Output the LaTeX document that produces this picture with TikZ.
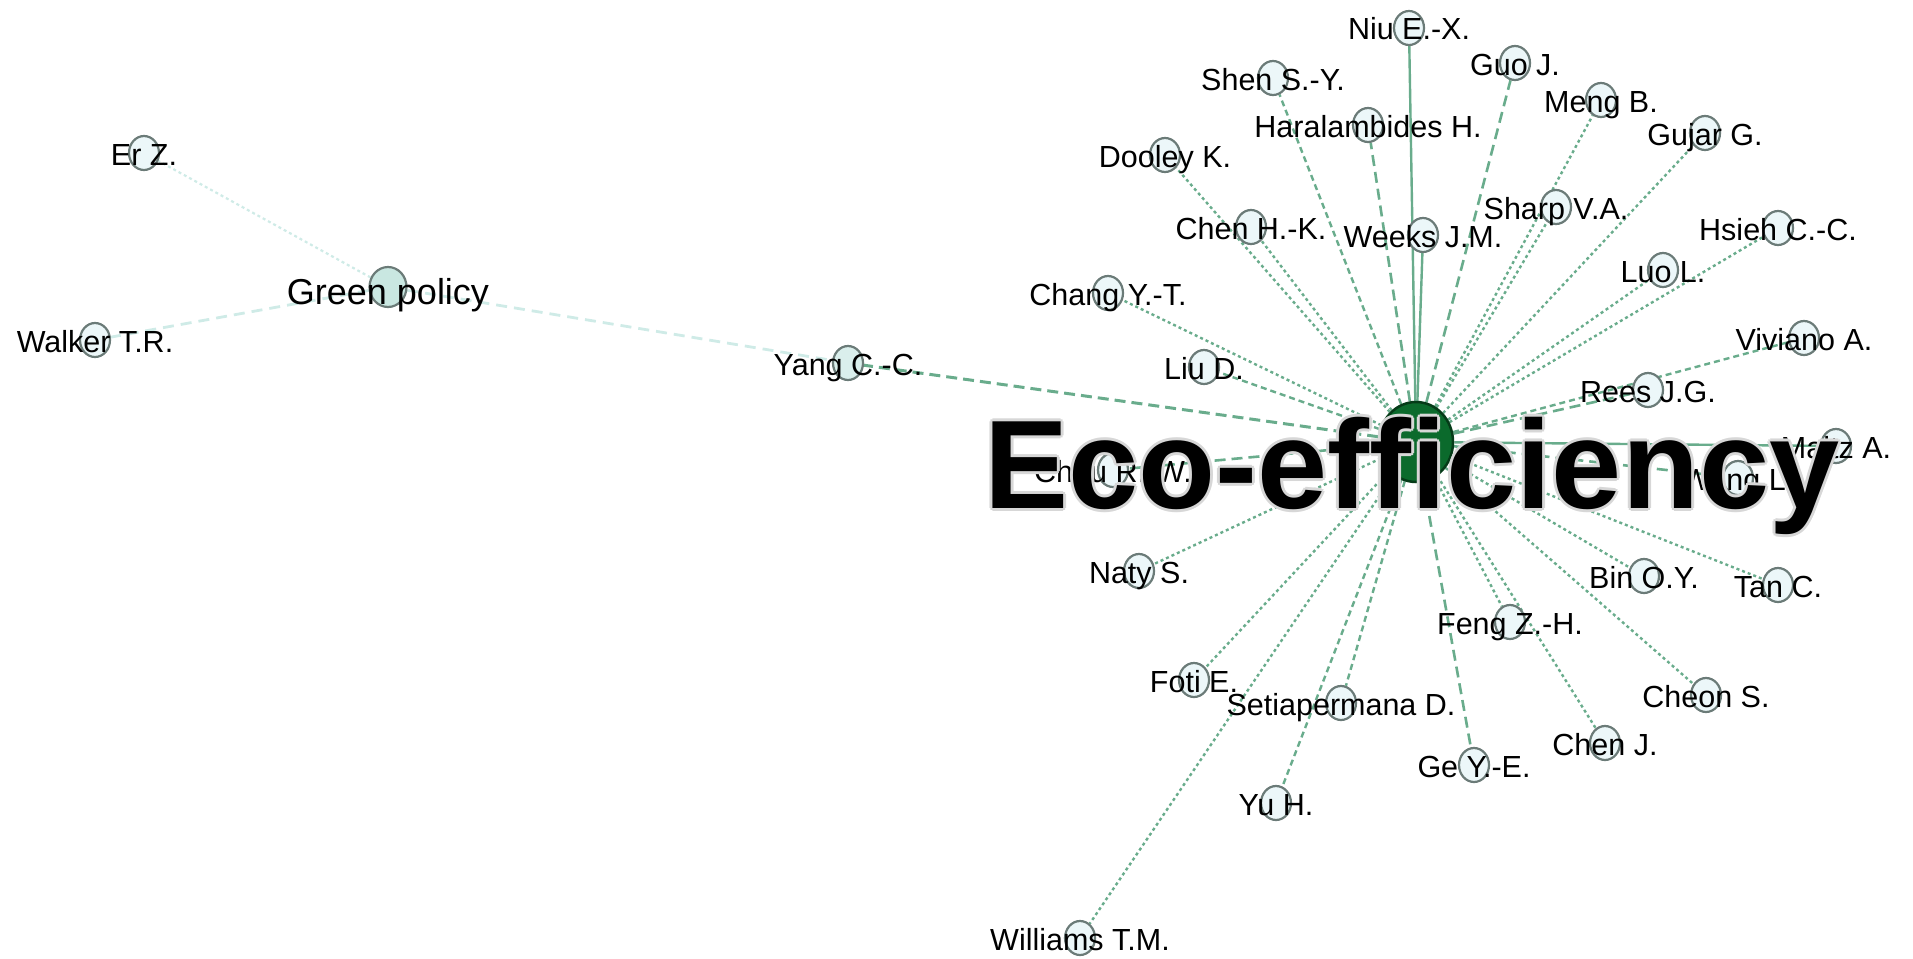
\documentclass[tikz,border=0pt]{standalone}
\usepackage{fontspec}
\setmainfont{Liberation Sans}[Ligatures=CommonOff]
\usetikzlibrary{shapes.geometric}
\definecolor{edgec}{RGB}{105,172,140}
\definecolor{edgelt}{RGB}{207,235,231}
\definecolor{nodef}{RGB}{236,247,249}
\definecolor{nodeb}{RGB}{107,123,120}
\definecolor{greenf}{RGB}{201,231,225}
\definecolor{yangf}{RGB}{218,239,236}
\definecolor{ecof}{RGB}{11,106,44}
\definecolor{ecob}{RGB}{5,59,24}
\definecolor{haloc}{RGB}{215,215,215}
\pgfdeclarelayer{bg}
\pgfsetlayers{bg,main}
\begin{document}
\begin{tikzpicture}[x=1pt,y=-1pt,
  au/.style={ellipse, draw=nodeb, line width=2.2pt, fill=nodef, minimum width=30pt, minimum height=34pt, inner sep=0pt},
  lbl/.style={anchor=base, inner sep=0pt, yshift=-12pt, font=\fontsize{30.5}{36}\selectfont},
  ed/.style={draw=edgec, line width=2.4pt, dash pattern=on 3pt off 3pt},
  es/.style={draw=edgec, line width=2.4pt, dash pattern=on 6pt off 4pt},
  el/.style={draw=edgec, line width=2.6pt, dash pattern=on 11pt off 6pt},
  eso/.style={draw=edgec, line width=2.4pt},
  lted/.style={draw=edgelt, line width=2.2pt, dash pattern=on 3pt off 3pt},
  ltel/.style={draw=edgelt, line width=2.8pt, dash pattern=on 11pt off 7pt},
  ecotxt/.style={anchor=base, inner sep=0pt, font=\fontsize{126}{130}\selectfont\bfseries}
]
\useasboundingbox (0,0) rectangle (1913,958);

% nodes
\node[ellipse, draw=ecob, line width=2.5pt, fill=ecof, minimum width=74pt, minimum height=80pt, inner sep=0pt] (eco) at (1416,442) {};
\node[au, fill=greenf, minimum width=37pt, minimum height=40pt] (green) at (388,287) {};
\node[au] (er) at (144,153) {};
\node[au] (walker) at (95,340) {};
\node[au, fill=yangf] (yang) at (848,363) {};
\node[au] (niu) at (1409,28) {};
\node[au] (guo) at (1515,63) {};
\node[au] (shen) at (1273,78) {};
\node[au] (meng) at (1601,100) {};
\node[au] (hara) at (1368,125) {};
\node[au] (gujar) at (1705,133) {};
\node[au] (dooley) at (1165,155) {};
\node[au] (sharp) at (1556,207) {};
\node[au] (chenhk) at (1251,227) {};
\node[au] (weeks) at (1423,235) {};
\node[au] (hsieh) at (1778,228) {};
\node[au] (chang) at (1108,293) {};
\node[au] (luo) at (1663,270) {};
\node[au] (viviano) at (1804,338) {};
\node[au] (liu) at (1204,367) {};
\node[au] (rees) at (1648,390) {};
\node[au] (maltz) at (1836,446) {};
\node[au] (wang) at (1738,478) {};
\node[au] (chou) at (1113,470) {};
\node[au] (naty) at (1139,571) {};
\node[au] (bin) at (1644,576) {};
\node[au] (tan) at (1778,585) {};
\node[au] (feng) at (1510,622) {};
\node[au] (foti) at (1194,680) {};
\node[au] (setia) at (1341,703) {};
\node[au] (cheon) at (1706,695) {};
\node[au] (chenj) at (1605,743) {};
\node[au] (ge) at (1474,765) {};
\node[au] (yu) at (1276,803) {};
\node[au] (williams) at (1080,938) {};

% edges
\begin{pgfonlayer}{bg}
\draw[lted] (green) -- (er);
\draw[ltel] (green) -- (walker);
\draw[ltel] (green) -- (yang);
\draw[el, line width=3pt] (eco) -- (yang);
\draw[eso] (eco) -- (niu);
\draw[eso] (eco) -- (weeks);
\draw[el] (eco) -- (hara);
\draw[es] (eco) -- (shen);
\draw[el] (eco) -- (guo);
\draw[ed] (eco) -- (meng);
\draw[ed] (eco) -- (sharp);
\draw[ed] (eco) -- (gujar);
\draw[ed] (eco) -- (hsieh);
\draw[ed] (eco) -- (luo);
\draw[es] (eco) -- (viviano);
\draw[el] (eco) -- (rees);
\draw[eso] (eco) -- (maltz);
\draw[el] (eco) -- (wang);
\draw[el] (eco) -- (chou);
\draw[es] (eco) -- (liu);
\draw[ed] (eco) -- (chang);
\draw[ed] (eco) -- (chenhk);
\draw[ed] (eco) -- (dooley);
\draw[ed] (eco) -- (naty);
\draw[ed] (eco) -- (foti);
\draw[ed] (eco) -- (williams);
\draw[es] (eco) -- (setia);
\draw[es] (eco) -- (yu);
\draw[el] (eco) -- (ge);
\draw[ed] (eco) -- (feng);
\draw[ed] (eco) -- (chenj);
\draw[ed] (eco) -- (cheon);
\draw[ed] (eco) -- (bin);
\draw[ed] (eco) -- (tan);
\end{pgfonlayer}

% labels
\node[lbl, yshift=-5pt, font=\fontsize{36}{40}\selectfont] (lgreen) at (388,287) {Green policy};
\node[lbl] (ler) at (144,153) {Er Z.};
\node[lbl] (lwalker) at (95,340) {Walker T.R.};
\node[lbl] (lyang) at (848,363) {Yang C.-C.};
\node[lbl] (lniu) at (1409,28) {Niu E.-X.};
\node[lbl] (lguo) at (1515,63) {Guo J.};
\node[lbl] (lshen) at (1273,78) {Shen S.-Y.};
\node[lbl] (lmeng) at (1601,100) {Meng B.};
\node[lbl] (lhara) at (1368,125) {Haralambides H.};
\node[lbl] (lgujar) at (1705,133) {Gujar G.};
\node[lbl] (ldooley) at (1165,155) {Dooley K.};
\node[lbl] (lsharp) at (1556,207) {Sharp V.A.};
\node[lbl] (lchenhk) at (1251,227) {Chen H.-K.};
\node[lbl] (lweeks) at (1423,235) {Weeks J.M.};
\node[lbl] (lhsieh) at (1778,228) {Hsieh C.-C.};
\node[lbl] (lchang) at (1108,293) {Chang Y.-T.};
\node[lbl] (lluo) at (1663,270) {Luo L.};
\node[lbl] (lviviano) at (1804,338) {Viviano A.};
\node[lbl] (lliu) at (1204,367) {Liu D.};
\node[lbl] (lrees) at (1648,390) {Rees J.G.};
\node[lbl] (lmaltz) at (1836,446) {Maltz A.};
\node[lbl] (lwang) at (1738,478) {Wang L.};
\node[lbl] (lchou) at (1113,470) {Chou R.-W.};
\node[lbl] (lnaty) at (1139,571) {Naty S.};
\node[lbl] (lbin) at (1644,576) {Bin O.Y.};
\node[lbl] (ltan) at (1778,585) {Tan C.};
\node[lbl] (lfeng) at (1510,622) {Feng Z.-H.};
\node[lbl] (lfoti) at (1194,680) {Foti E.};
\node[lbl] (lsetia) at (1341,703) {Setiapermana D.};
\node[lbl] (lcheon) at (1706,695) {Cheon S.};
\node[lbl] (lchenj) at (1605,743) {Chen J.};
\node[lbl] (lge) at (1474,765) {Ge Y.-E.};
\node[lbl] (lyu) at (1276,803) {Yu H.};
\node[lbl] (lwilliams) at (1080,938) {Williams T.M.};

% big label with soft halo
\foreach \dx/\dy in {-3/0,3/0,0/-3,0/3,-2/-2,2/2,-2/2,2/-2}
  \node[ecotxt, text=haloc] at (1412+\dx,508+\dy) {Eco-efficiency};
\node[ecotxt] (leco) at (1412,508) {Eco-efficiency};
\end{tikzpicture}
\end{document}
